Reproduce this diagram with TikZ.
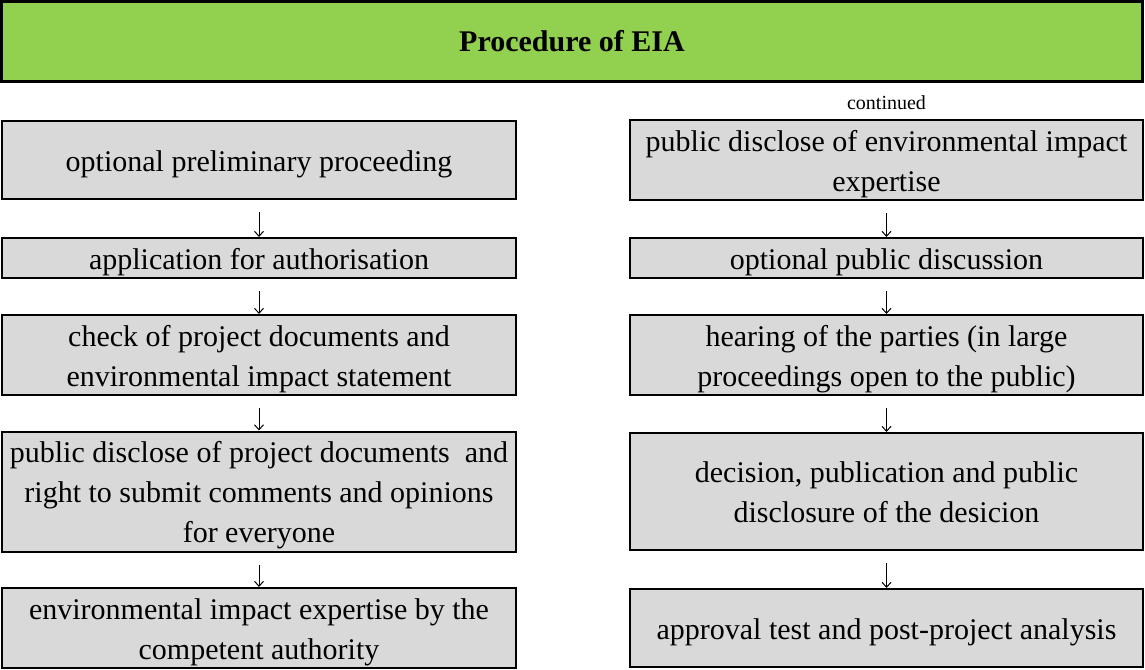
\documentclass[tikz,border=0pt]{standalone}
\usepackage{fontspec}
\setmainfont{Liberation Serif}
\usetikzlibrary{arrows.meta}
\definecolor{titlegreen}{HTML}{92D050}
\definecolor{boxgray}{HTML}{D9D9D9}
\newcommand\boxtext[1]{\raisebox{-3pt}[\height][\depth]{\begin{tabular}{@{}c@{}}#1\end{tabular}}}
\tikzset{
  stepbox/.style={draw=black, line width=2pt, fill=boxgray, align=center,
    inner sep=0pt, font=\fontsize{30}{40}\selectfont},
  titlebox/.style={draw=black, line width=3pt, fill=titlegreen, align=center,
    font=\fontsize{30}{36}\selectfont\bfseries},
  flow/.style={line width=1pt, -{Straight Barb[length=5pt,width=9pt]}, shorten <=12pt},
}
\begin{document}
\begin{tikzpicture}[x=1pt,y=-1pt]
\useasboundingbox (0,0) rectangle (1145,669);
% title
\node[titlebox, minimum width=1141pt, minimum height=80pt] (title) at (572,41.5) {Procedure of EIA};
% left column
\node[stepbox, minimum width=514pt, minimum height=78pt] (l1) at (259,160) {\boxtext{optional preliminary proceeding}};
\node[stepbox, minimum width=514pt, minimum height=40pt] (l2) at (259,258) {\boxtext{application for authorisation}};
\node[stepbox, minimum width=514pt, minimum height=78pt] (l3) at (259,355) {\boxtext{check of project documents and\\environmental impact statement}};
\node[stepbox, minimum width=514pt, minimum height=117pt] (l4) at (259,491.5) {\boxtext{public disclose of project documents \ and\\right to submit comments and opinions\\for everyone}};
\node[stepbox, minimum width=514pt, minimum height=78pt] (l5) at (259,628) {\boxtext{environmental impact expertise by the\\competent authority}};
% right column
\node[font=\fontsize{20}{24}\selectfont] (cont) at (886.5,103) {continued};
\node[stepbox, minimum width=513pt, minimum height=78pt] (r1) at (886.5,160) {\boxtext{public disclose of environmental impact\\expertise}};
\node[stepbox, minimum width=513pt, minimum height=40pt] (r2) at (886.5,258) {\boxtext{optional public discussion}};
\node[stepbox, minimum width=513pt, minimum height=78pt] (r3) at (886.5,355) {\boxtext{hearing of the parties (in large\\proceedings open to the public)}};
\node[stepbox, minimum width=513pt, minimum height=117pt] (r4) at (886.5,491.5) {\boxtext{decision, publication and public\\disclosure of the desicion}};
\node[stepbox, minimum width=513pt, minimum height=78pt] (r5) at (886.5,628) {\boxtext{approval test and post-project analysis}};
% arrows
\draw[flow] (l1.south) -- (l2.north);
\draw[flow] (l2.south) -- (l3.north);
\draw[flow] (l3.south) -- (l4.north);
\draw[flow] (l4.south) -- (l5.north);
\draw[flow] (r1.south) -- (r2.north);
\draw[flow] (r2.south) -- (r3.north);
\draw[flow] (r3.south) -- (r4.north);
\draw[flow] (r4.south) -- (r5.north);
\end{tikzpicture}
\end{document}
